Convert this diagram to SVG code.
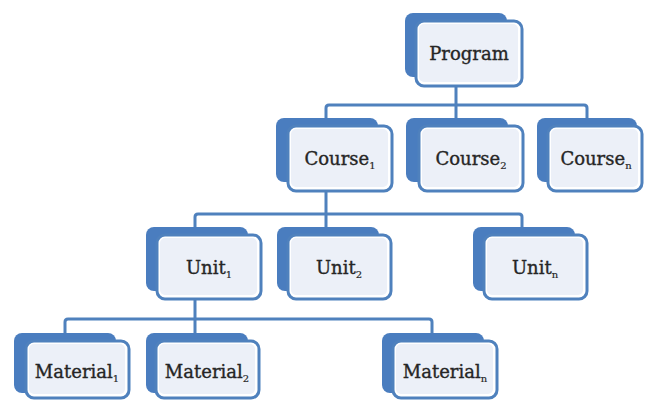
<svg xmlns="http://www.w3.org/2000/svg" width="645" height="401" viewBox="0 0 645 401">
<style>
.back{fill:#4a7dbf;}
.front{fill:#ffffff;stroke:#4f81bd;stroke-width:3;}
.inner{fill:#ecf0f8;}
.lbl{font-family:"DejaVu Serif","Liberation Serif",serif;font-size:18px;fill:#262626;stroke:#262626;stroke-width:0.35;text-anchor:middle;}
.sub{font-size:10px;stroke-width:0.2;}
.conn{fill:none;stroke:#4f81bd;stroke-width:3;stroke-linejoin:round;}
</style>
<g id="connectors">
<path class="conn" d="M456 86 V105 M326 119 V108 Q326 105 329 105 H584 Q587 105 587 108 V119 M456 105 V119"/>
<path class="conn" d="M326 191 V214 M195 228 V217 Q195 214 198 214 H519 Q522 214 522 217 V228 M326 214 V228"/>
<path class="conn" d="M195 299 V319 M65 334 V322 Q65 319 68 319 H429 Q432 319 432 322 V334 M195 319 V334"/>
</g>
<g id="program">
<rect class="back" x="405" y="13" width="102" height="64" rx="8"/>
<rect class="front" x="416" y="21" width="106" height="65" rx="8"/>
<rect class="inner" x="419" y="24" width="99" height="58" rx="5"/>
<text class="lbl" x="469" y="60">Program</text>
</g>
<g id="course1">
<rect class="back" x="276" y="118" width="102" height="64" rx="8"/>
<rect class="front" x="288" y="126" width="104" height="65" rx="8"/>
<rect class="inner" x="291" y="129" width="97" height="58" rx="5"/>
<text class="lbl" x="340" y="165">Course<tspan class="sub" dy="4">1</tspan></text>
</g>
<g id="course2">
<rect class="back" x="406" y="118" width="102" height="64" rx="8"/>
<rect class="front" x="419" y="126" width="104" height="65" rx="8"/>
<rect class="inner" x="422" y="129" width="97" height="58" rx="5"/>
<text class="lbl" x="471" y="165">Course<tspan class="sub" dy="4">2</tspan></text>
</g>
<g id="coursen">
<rect class="back" x="537" y="118" width="100" height="64" rx="8"/>
<rect class="front" x="548" y="126" width="94" height="65" rx="8"/>
<rect class="inner" x="551" y="129" width="87" height="58" rx="5"/>
<text class="lbl" x="596" y="165">Course<tspan class="sub" dy="4">n</tspan></text>
</g>
<g id="unit1">
<rect class="back" x="146" y="227" width="102" height="64" rx="8"/>
<rect class="front" x="157" y="235" width="104" height="64" rx="8"/>
<rect class="inner" x="160" y="238" width="97" height="57" rx="5"/>
<text class="lbl" x="209" y="274">Unit<tspan class="sub" dy="4">1</tspan></text>
</g>
<g id="unit2">
<rect class="back" x="277" y="227" width="102" height="64" rx="8"/>
<rect class="front" x="288" y="235" width="103" height="64" rx="8"/>
<rect class="inner" x="291" y="238" width="96" height="57" rx="5"/>
<text class="lbl" x="339" y="274">Unit<tspan class="sub" dy="4">2</tspan></text>
</g>
<g id="unitn">
<rect class="back" x="473" y="227" width="102" height="64" rx="8"/>
<rect class="front" x="484" y="235" width="103" height="64" rx="8"/>
<rect class="inner" x="487" y="238" width="96" height="57" rx="5"/>
<text class="lbl" x="535" y="274">Unit<tspan class="sub" dy="4">n</tspan></text>
</g>
<g id="material1">
<rect class="back" x="14" y="333" width="102" height="60" rx="8"/>
<rect class="front" x="26" y="341" width="103" height="57" rx="8"/>
<rect class="inner" x="29" y="344" width="96" height="50" rx="5"/>
<text class="lbl" x="77" y="378">Material<tspan class="sub" dy="4">1</tspan></text>
</g>
<g id="material2">
<rect class="back" x="146" y="333" width="102" height="60" rx="8"/>
<rect class="front" x="156" y="341" width="103" height="57" rx="8"/>
<rect class="inner" x="159" y="344" width="96" height="50" rx="5"/>
<text class="lbl" x="207" y="378">Material<tspan class="sub" dy="4">2</tspan></text>
</g>
<g id="materialn">
<rect class="back" x="382" y="333" width="102" height="60" rx="8"/>
<rect class="front" x="393" y="341" width="104" height="57" rx="8"/>
<rect class="inner" x="396" y="344" width="97" height="50" rx="5"/>
<text class="lbl" x="445" y="378">Material<tspan class="sub" dy="4">n</tspan></text>
</g>
</svg>
